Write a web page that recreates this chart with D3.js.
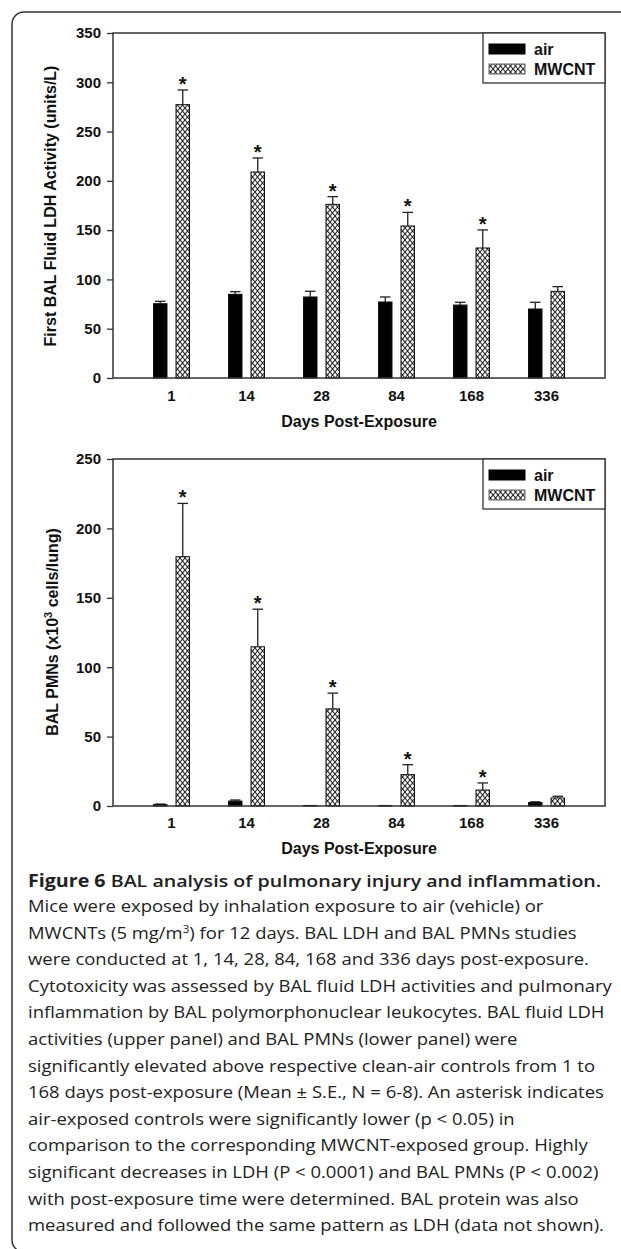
<!DOCTYPE html>
<meta charset="utf-8">
<style>
    body { margin: 0; background: #fff; }
    svg { display: block; }
    .chart text { font-family: "Liberation Sans", Arial, sans-serif; font-weight: bold; fill: #111; }
    .tick line { stroke: #333; stroke-width: 1.3; }
    .frame { fill: none; stroke: #333; stroke-width: 1.5; }
    .caption { font-family: "Open Sans", sans-serif; fill: #222; }
</style>
<body>
<script src="https://d3js.org/d3.v7.min.js"></script>
<script>
    var width = 621,
        height = 1249;

    // data
    var days = ["1", "14", "28", "84", "168", "336"];

    var ldhAir = [75.4, 84.9, 82.2, 77.1, 74, 70];
    var ldhAirErr = [2.4, 2.7, 5.8, 5.1, 2.8, 6.8];
    var ldhMw = [277.3, 209, 176.2, 154.2, 131.9, 87.9];
    var ldhMwErr = [14.9, 14.2, 7.8, 13.8, 18.3, 4.8];
    var ldhStar = [true, true, true, true, true, false];
    var ldhTicks = [0, 50, 100, 150, 200, 250, 300, 350];

    var pmnAir = [1, 3.5, 0.3, 0.3, 0.3, 2.5];
    var pmnAirErr = [0.4, 0.8, 0, 0, 0, 0.5];
    var pmnMw = [179.6, 114.7, 70, 22.6, 11.5, 5.8];
    var pmnMwErr = [38.4, 27.1, 11.3, 7.2, 5.1, 1.2];
    var pmnStar = [true, true, true, true, true, false];
    var pmnTicks = [0, 50, 100, 150, 200, 250];

    var seriesNames = ["air", "MWCNT"];

    var captionTitle = ["Figure 6", " BAL analysis of pulmonary injury and inflammation."];
    var captionLines = [
        ["Mice were exposed by inhalation exposure to air (vehicle) or"],
        ["MWCNTs (5 mg/m", "3", ") for 12 days. BAL LDH and BAL PMNs studies"],
        ["were conducted at 1, 14, 28, 84, 168 and 336 days post-exposure."],
        ["Cytotoxicity was assessed by BAL fluid LDH activities and pulmonary"],
        ["inflammation by BAL polymorphonuclear leukocytes. BAL fluid LDH"],
        ["activities (upper panel) and BAL PMNs (lower panel) were"],
        ["significantly elevated above respective clean-air controls from 1 to"],
        ["168 days post-exposure (Mean \u00b1 S.E., N = 6-8). An asterisk indicates"],
        ["air-exposed controls were significantly lower (p < 0.05) in"],
        ["comparison to the corresponding MWCNT-exposed group. Highly"],
        ["significant decreases in LDH (P < 0.0001) and BAL PMNs (P < 0.002)"],
        ["with post-exposure time were determined. BAL protein was also"],
        ["measured and followed the same pattern as LDH (data not shown)."]
    ];

    var svg = d3.select("body").append("svg")
        .attr("width", width)
        .attr("height", height);

    var defs = svg.append("defs");
    var pat = defs.append("pattern")
        .attr("id", "hatch")
        .attr("patternUnits", "userSpaceOnUse")
        .attr("width", 5)
        .attr("height", 6);
    pat.append("rect").attr("width", 5).attr("height", 6).attr("fill", "#fff");
    pat.append("path")
        .attr("d", "M0,0L5,6M5,0L0,6")
        .attr("stroke", "#222")
        .attr("stroke-width", 1.1);

    // outer rounded border (only top and left visible)
    svg.append("path")
        .attr("d", "M621,12H24A12,12 0 0 0 12,24V1240A12,12 0 0 0 24,1252")
        .attr("fill", "none")
        .attr("stroke", "#333")
        .attr("stroke-width", 1.5);

    var left = 113, right = 605;

    var x = d3.scaleBand()
        .domain(days)
        .range([left, right])
        .paddingInner(0)
        .paddingOuter(0.28);

    var barW = 13.5;

    function drawPanel(p) {
        var g = svg.append("g").attr("class", "chart");
        var y = d3.scaleLinear().domain([0, p.max]).range([p.bottom, p.top]);

        g.append("g")
            .attr("transform", "translate(" + left + ",0)")
            .call(d3.axisLeft(y).tickValues(p.ticks).tickSize(6).tickSizeOuter(0).tickPadding(6))
            .call(function (a) { a.select(".domain").remove(); })
            .selectAll("text").style("font-size", "15px").attr("fill", "#111");

        g.append("g")
            .attr("transform", "translate(0," + p.bottom + ")")
            .call(d3.axisBottom(x).tickSize(0).tickPadding(p.xPad))
            .call(function (a) { a.select(".domain").remove(); })
            .selectAll("text").style("font-size", "15px").attr("fill", "#111");

        var series = [
            { vals: p.air, err: p.airErr, off: -18, fill: "#000" },
            { vals: p.mw, err: p.mwErr, off: 4.5, fill: "url(#hatch)" }
        ];

        series.forEach(function (s) {
            var cx = function (d, i) { return x(days[i]) + x.bandwidth() / 2 + s.off; };
            // error bars (upper half only)
            g.selectAll(null).data(s.vals).enter().append("line")
                .attr("x1", function (d, i) { return cx(d, i) + barW / 2; })
                .attr("x2", function (d, i) { return cx(d, i) + barW / 2; })
                .attr("y1", function (d) { return y(d); })
                .attr("y2", function (d, i) { return y(d + s.err[i]); })
                .attr("stroke", "#222").attr("stroke-width", 1.3);
            g.selectAll(null).data(s.vals).enter().append("line")
                .attr("x1", function (d, i) { return cx(d, i) + 1.5; })
                .attr("x2", function (d, i) { return cx(d, i) + barW - 1.5; })
                .attr("y1", function (d, i) { return y(d + s.err[i]); })
                .attr("y2", function (d, i) { return y(d + s.err[i]); })
                .attr("stroke", "#222").attr("stroke-width", 1.3);
            g.selectAll(null).data(s.vals).enter().append("rect")
                .attr("x", cx)
                .attr("y", function (d) { return y(d); })
                .attr("width", barW)
                .attr("height", function (d) { return y(0) - y(d); })
                .attr("fill", s.fill)
                .attr("stroke", "#111")
                .attr("stroke-width", 1);
        });

        // asterisks over significant MWCNT bars
        var starIdx = d3.range(days.length).filter(function (i) { return p.star[i]; });
        g.selectAll(null).data(starIdx).enter().append("text")
            .attr("x", function (i) { return x(days[i]) + x.bandwidth() / 2 + 4.5 + barW / 2; })
            .attr("y", function (i) { return y(p.mw[i] + p.mwErr[i]) + 1; })
            .attr("text-anchor", "middle")
            .style("font-size", "20px")
            .text("*");

        g.append("rect").attr("class", "frame")
            .attr("x", left).attr("y", p.top)
            .attr("width", right - left).attr("height", p.bottom - p.top);

        // legend
        var lg = g.append("g").attr("transform", "translate(483," + p.top + ")");
        lg.append("rect").attr("width", 122).attr("height", 50)
            .attr("fill", "#fff").attr("stroke", "#333").attr("stroke-width", 1.3);
        seriesNames.forEach(function (n, i) {
            lg.append("rect").attr("x", 6).attr("y", 11 + i * 20)
                .attr("width", 36).attr("height", 10)
                .attr("fill", i === 0 ? "#000" : "url(#hatch)")
                .attr("stroke", i === 0 ? "#000" : "#666").attr("stroke-width", 1);
            lg.append("text").attr("x", 51).attr("y", 22 + i * 19.5)
                .style("font-size", "16px").text(n);
        });

        // axis titles
        g.append("text")
            .attr("x", (left + right) / 2).attr("y", p.xTitleY)
            .attr("text-anchor", "middle").style("font-size", "16px")
            .text("Days Post-Exposure");

        var yt = g.append("text")
            .attr("transform", "translate(" + p.yTitleX + "," + p.yTitleY + ") rotate(-90)")
            .attr("text-anchor", "middle").style("font-size", "16px");
        p.yTitle.forEach(function (part, i) {
            var t = yt.append("tspan").text(part);
            if (i === 1) t.attr("dy", -6).style("font-size", "11px");
            if (i === 2) t.attr("dy", 6);
        });
    }

    drawPanel({
        top: 33, bottom: 378, max: 350, ticks: ldhTicks,
        air: ldhAir, airErr: ldhAirErr, mw: ldhMw, mwErr: ldhMwErr, star: ldhStar,
        xPad: 12, xTitleY: 427, yTitleX: 56, yTitleY: 206,
        yTitle: ["First BAL Fluid LDH Activity (units/L)"]
    });

    drawPanel({
        top: 459, bottom: 806, max: 250, ticks: pmnTicks,
        air: pmnAir, airErr: pmnAirErr, mw: pmnMw, mwErr: pmnMwErr, star: pmnStar,
        xPad: 11, xTitleY: 854, yTitleX: 58, yTitleY: 632,
        yTitle: ["BAL PMNs (x10", "3", " cells/lung)"]
    });

    // caption (the original type is set wider than Open Sans, so stretch it)
    var cap = svg.append("g").attr("class", "caption")
        .attr("transform", "translate(28,0) scale(1.155,1)");
    var tt = cap.append("text").attr("x", 0).attr("y", 887).style("font-size", "17px");
    tt.append("tspan").style("font-weight", 700).text(captionTitle[0]);
    tt.append("tspan").style("font-weight", 600).text(captionTitle[1]);

    captionLines.forEach(function (parts, i) {
        var t = cap.append("text")
            .attr("x", 0)
            .attr("y", 912 + i * 26.6)
            .style("font-size", "16px");
        parts.forEach(function (part, j) {
            var s = t.append("tspan").text(part);
            if (parts.length > 1 && j === 1) s.attr("dy", -6).style("font-size", "10px");
            if (parts.length > 1 && j === 2) s.attr("dy", 6);
        });
    });
</script>
</body>
